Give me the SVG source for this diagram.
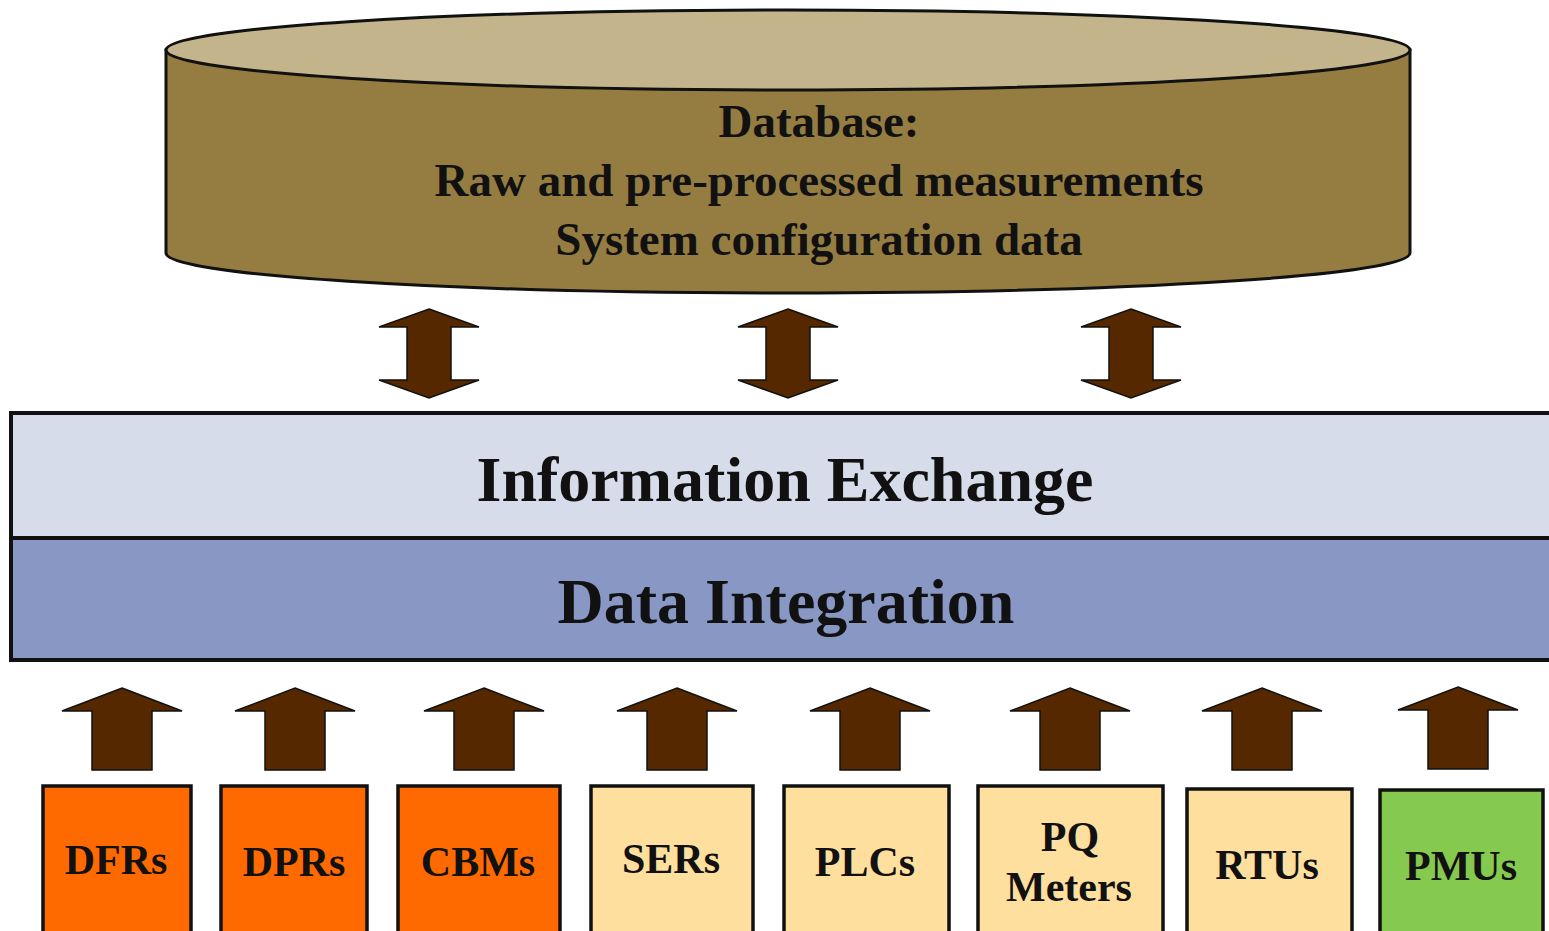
<svg xmlns="http://www.w3.org/2000/svg" width="1549" height="931" viewBox="0 0 1549 931">
<style>
.t{font-family:"Liberation Serif","Times New Roman",serif;font-weight:bold;fill:#111;text-anchor:middle}
.arr{fill:#552800;stroke:#111;stroke-width:1.5;stroke-linejoin:miter}
.box{stroke:#111;stroke-width:3.5}
.orange{fill:#FF6A00}
.beige{fill:#FFDF9E}
.green{fill:#86C94F}
</style>
<defs>
<path id="dbl" d="M0,-45 L50,-27 L22,-27 L22,26 L50,26 L0,44 L-50,26 L-22,26 L-22,-27 L-50,-27 Z"/>
<path id="up" d="M0,0 L60,23 L30,23 L30,82 L-30,82 L-30,23 L-60,23 Z"/>
</defs>
<rect width="1549" height="931" fill="#fff"/>
<g id="database">
<path d="M166,50 L166,253 A622,40 0 0 0 1410,253 L1410,50 Z" fill="#957D42" stroke="#111" stroke-width="3"/>
<ellipse cx="788" cy="50" rx="622" ry="40" fill="#C3B48C" stroke="#111" stroke-width="3"/>
<text class="t" x="819" y="137" font-size="47">Database:</text>
<text class="t" x="819" y="196" font-size="47">Raw and pre-processed measurements</text>
<text class="t" x="819" y="255" font-size="47">System configuration data</text>
</g>
<g id="info-exchange">
<rect x="11" y="413" width="1548" height="125" fill="#D7DCEA" stroke="#111" stroke-width="4"/>
<text class="t" x="785" y="501" font-size="64">Information Exchange</text>
</g>
<g id="data-integration">
<rect x="11" y="538" width="1548" height="122" fill="#8897C3" stroke="#111" stroke-width="4"/>
<text class="t" x="786" y="623" font-size="64">Data Integration</text>
</g>
<g id="connectors">
<use href="#dbl" class="arr" x="429" y="354"/>
<use href="#dbl" class="arr" x="788" y="354"/>
<use href="#dbl" class="arr" x="1131" y="354"/>
<use href="#up" class="arr" x="122" y="688"/>
<use href="#up" class="arr" x="295" y="688"/>
<use href="#up" class="arr" x="484" y="688"/>
<use href="#up" class="arr" x="677" y="688"/>
<use href="#up" class="arr" x="870" y="688"/>
<use href="#up" class="arr" x="1070" y="688"/>
<use href="#up" class="arr" x="1262" y="688"/>
<use href="#up" class="arr" x="1458" y="687"/>
</g>
<g id="dfrs"><rect class="box orange" x="43" y="786" width="148" height="160"/><text class="t" x="116" y="874" font-size="42">DFRs</text></g>
<g id="dprs"><rect class="box orange" x="221" y="786" width="146" height="160"/><text class="t" x="294" y="876" font-size="42">DPRs</text></g>
<g id="cbms"><rect class="box orange" x="398" y="786" width="162" height="160"/><text class="t" x="478" y="876" font-size="42">CBMs</text></g>
<g id="sers"><rect class="box beige" x="591" y="786" width="162" height="160"/><text class="t" x="671" y="873" font-size="42">SERs</text></g>
<g id="plcs"><rect class="box beige" x="784" y="786" width="165" height="160"/><text class="t" x="865" y="876" font-size="42">PLCs</text></g>
<g id="pq-meters"><rect class="box beige" x="978" y="786" width="185" height="160"/><text class="t" x="1070" y="851" font-size="42">PQ</text><text class="t" x="1069" y="901" font-size="42">Meters</text></g>
<g id="rtus"><rect class="box beige" x="1187" y="789" width="165" height="160"/><text class="t" x="1267" y="879" font-size="42">RTUs</text></g>
<g id="pmus"><rect class="box green" x="1380" y="790" width="163" height="160"/><text class="t" x="1461" y="880" font-size="42">PMUs</text></g>
</svg>
